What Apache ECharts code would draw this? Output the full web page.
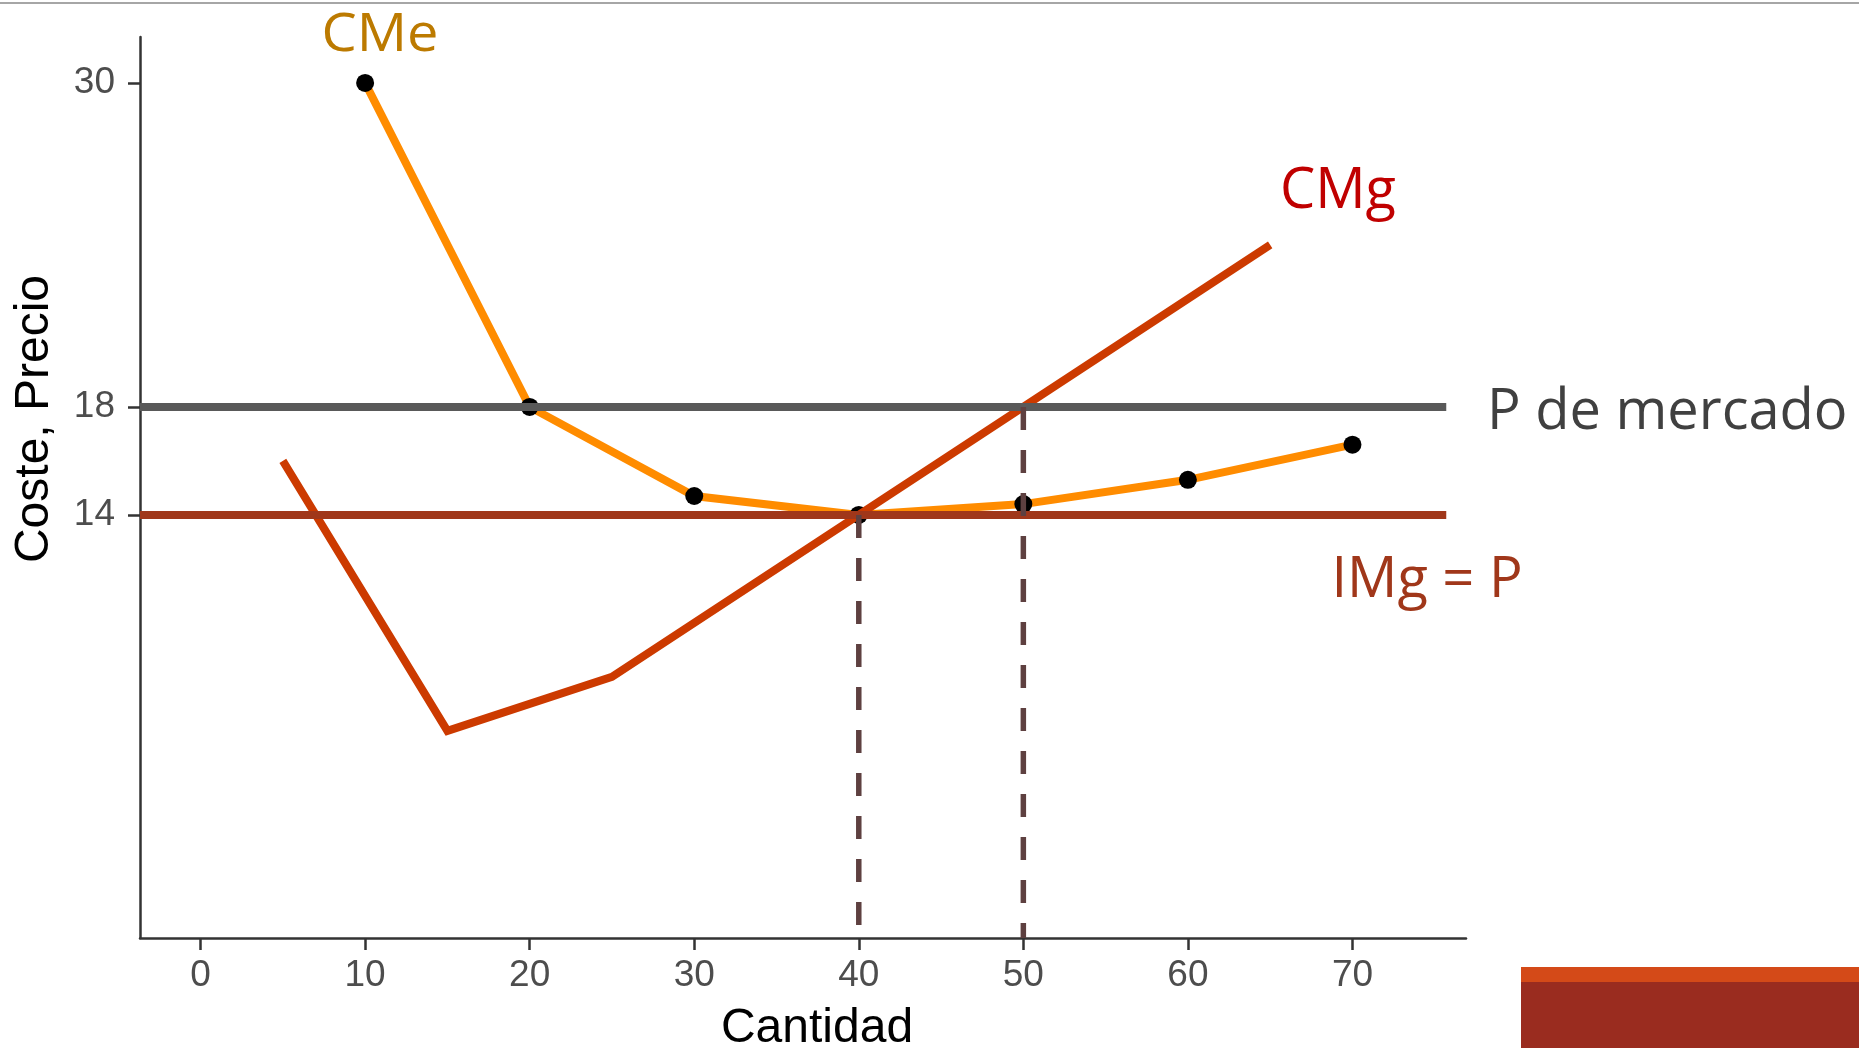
<!DOCTYPE html>
<html>
<head>
<meta charset="utf-8">
<script src="https://cdn.jsdelivr.net/npm/echarts@6/dist/echarts.min.js"></script>
<style>
html,body{margin:0;padding:0;background:#fff;}
#chart{width:1859px;height:1048px;}
</style>
</head>
<body>
<div id="chart"></div>
<script>
// ---- data ----
var cmeQ = [10, 20, 30, 40, 50, 60, 70];
var cmeVal = [30, 18, 14.7, 14, 14.4, 15.3, 16.6];
var cmgQ = [5, 15, 25, 40, 50, 65];
var cmgVal = [16, 6, 8, 14, 18, 24];
var marketPrice = 18;
var imgPrice = 14;
var hlineQ = [-3.68, 75.7];
var dashQ = [40, 50];
var dashTop = [14, 18];
var xTicks = [0, 10, 20, 30, 40, 50, 60, 70];
var yTicks = [14, 18, 30];
var xMin = -3.68, xMax = 76.9;
var yMin = -1.67, yMax = 31.7;

function pairs(xs, ys) { return xs.map(function (x, i) { return [x, ys[i]]; }); }

var chart = echarts.init(document.getElementById('chart'), null, {renderer: 'canvas'});
var labelFont = 'Liberation Sans, Arial, sans-serif';
var annFont = 'Open Sans, Lato, sans-serif';

var series = [
  {
    type: 'line', name: 'CMe', data: pairs(cmeQ, cmeVal), z: 2,
    lineStyle: {color: '#FF8C00', width: 8, join: 'miter'},
    symbol: 'circle', symbolSize: 18, showAllSymbol: true,
    itemStyle: {color: '#000'}
  },
  {
    type: 'line', name: 'CMg', data: pairs(cmgQ, cmgVal), z: 3,
    lineStyle: {color: '#CC3A00', width: 8, join: 'miter'},
    symbol: 'none'
  },
  {
    type: 'line', name: 'P', data: pairs(hlineQ, [marketPrice, marketPrice]), z: 4,
    lineStyle: {color: '#595959', width: 8}, symbol: 'none'
  },
  {
    type: 'line', name: 'IMg', data: pairs(hlineQ, [imgPrice, imgPrice]), z: 4,
    lineStyle: {color: '#A0371A', width: 8}, symbol: 'none'
  }
];
dashQ.forEach(function (q, i) {
  series.push({
    type: 'line', name: 'dash' + i, data: [[q, dashTop[i]], [q, yMin]], z: 5,
    lineStyle: {color: '#5E4040', width: 5.5, type: [23, 20]}, symbol: 'none'
  });
});

chart.setOption({
  animation: false,
  backgroundColor: '#fff',
  grid: {left: 140, right: 393, top: 37, bottom: 110, containLabel: false},
  xAxis: {
    type: 'value', min: xMin, max: xMax,
    axisLine: {show: true, onZero: false, lineStyle: {color: '#333', width: 2.5}},
    axisTick: {show: true, length: 12, lineStyle: {color: '#333', width: 2.5}, customValues: xTicks},
    axisLabel: {color: '#4D4D4D', fontSize: 37, fontFamily: labelFont, margin: 19, customValues: xTicks},
    splitLine: {show: false}
  },
  yAxis: {
    type: 'value', min: yMin, max: yMax,
    axisLine: {show: true, onZero: false, lineStyle: {color: '#333', width: 2.5}},
    axisTick: {show: true, length: 12, lineStyle: {color: '#333', width: 2.5}, customValues: yTicks},
    axisLabel: {color: '#4D4D4D', fontSize: 37, fontFamily: labelFont, margin: 25, customValues: yTicks},
    splitLine: {show: false}
  },
  series: series,
  graphic: [
    {type: 'rect', left: 0, top: 2, shape: {width: 1859, height: 2}, style: {fill: '#A6A6A6'}, silent: true},
    {type: 'rect', shape: {x: 1521, y: 967, width: 338, height: 15}, style: {fill: '#D44A18'}},
    {type: 'rect', shape: {x: 1521, y: 982, width: 338, height: 66}, style: {fill: '#9A2C1F'}},
    {type: 'text', x: 380, y: 34, scaleY: 0.93, originY: 34,
      style: {text: 'CMe', fill: '#BC7A00', font: '56px ' + annFont, align: 'center', verticalAlign: 'middle'}},
    {type: 'text', x: 1338, y: 192,
      style: {text: 'CMg', fill: '#C00000', font: '56px ' + annFont, align: 'center', verticalAlign: 'middle'}},
    {type: 'text', x: 1487, y: 413,
      style: {text: 'P de mercado', fill: '#404040', font: '56px ' + annFont, align: 'left', verticalAlign: 'middle'}},
    {type: 'text', x: 1427, y: 581,
      style: {text: 'IMg = P', fill: '#A0371A', font: '56px ' + annFont, align: 'center', verticalAlign: 'middle'}},
    {type: 'text', x: 35, y: 419, rotation: Math.PI / 2,
      style: {text: 'Coste, Precio', fill: '#000', font: '48px ' + labelFont, align: 'center', verticalAlign: 'middle'}},
    {type: 'text', x: 817, y: 1029,
      style: {text: 'Cantidad', fill: '#000', font: '48px ' + labelFont, align: 'center', verticalAlign: 'middle'}}
  ]
});
</script>
</body>
</html>
